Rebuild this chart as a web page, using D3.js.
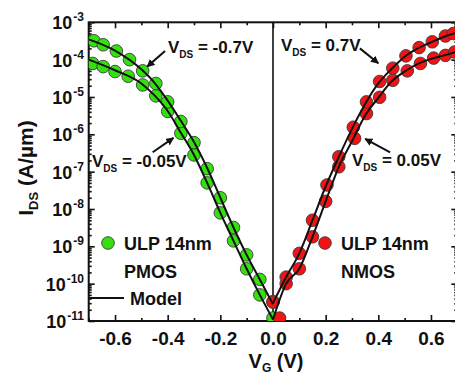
<!DOCTYPE html>
<html>
<head>
<meta charset="utf-8">
<script src="https://cdn.jsdelivr.net/npm/d3@7"></script>
<style>
  body { margin: 0; background: #fff; }
  svg text { font-family: "Liberation Sans", Arial, sans-serif; font-weight: bold; fill: #111; }
</style>
</head>
<body>
<svg id="chart" width="455" height="374"></svg>
<script>
// Measured transfer characteristics, I_DS in A/um versus V_G in V
const pmosHighVg = [-0.68, -0.645, -0.595, -0.545, -0.495, -0.445, -0.40, -0.35, -0.30, -0.25, -0.20, -0.15, -0.10, -0.05, 0.0];
const pmosHighId = [3.2e-4, 2.5e-4, 1.7e-4, 1.0e-4, 5.0e-5, 2.3e-5, 7.4e-6, 2.2e-6, 6.0e-7, 1.2e-7, 2.0e-8, 3.2e-9, 5.9e-10, 1.3e-10, 3.3e-11];
const pmosLowVg = [-0.685, -0.645, -0.60, -0.55, -0.495, -0.445, -0.40, -0.35, -0.30, -0.25, -0.20, -0.15, -0.10, -0.05, 0.0];
const pmosLowId = [7.9e-5, 6.5e-5, 4.8e-5, 3.6e-5, 2.1e-5, 1.07e-5, 4.1e-6, 1.07e-6, 2.8e-7, 5.0e-8, 7.9e-9, 1.4e-9, 2.5e-10, 5.0e-11, 1.2e-11];

const nmosHighVg = [0.0, 0.05, 0.10, 0.15, 0.205, 0.25, 0.305, 0.355, 0.405, 0.455, 0.505, 0.555, 0.605, 0.655, 0.685];
const nmosHighId = [3.2e-11, 1.5e-10, 6.5e-10, 5.0e-9, 4.4e-8, 2.5e-7, 1.55e-6, 7.4e-6, 2.6e-5, 5.9e-5, 1.26e-4, 2.1e-4, 3.0e-4, 4.3e-4, 5.0e-4];
const nmosLowVg = [0.025, 0.05, 0.10, 0.15, 0.20, 0.25, 0.31, 0.355, 0.405, 0.455, 0.51, 0.56, 0.61, 0.655, 0.69];
const nmosLowId = [1.2e-11, 1.0e-10, 2.5e-10, 1.8e-9, 1.6e-8, 1.35e-7, 7.8e-7, 3.6e-6, 9.8e-6, 2.8e-5, 5.0e-5, 7.9e-5, 1.1e-4, 1.3e-4, 1.6e-4];

// Compact-model curves
const modelPHighVg = [-0.70, -0.60, -0.50, -0.45, -0.40, -0.35, -0.30, -0.25, -0.20, -0.15, -0.10, -0.05, 0.0];
const modelPHighId = [3.5e-4, 1.75e-4, 5.5e-5, 2.4e-5, 8.0e-6, 2.3e-6, 6.2e-7, 1.25e-7, 2.0e-8, 3.2e-9, 5.9e-10, 1.3e-10, 2.8e-11];
const modelPLowVg = [-0.70, -0.60, -0.50, -0.45, -0.40, -0.35, -0.30, -0.25, -0.20, -0.15, -0.10, -0.05, 0.0];
const modelPLowId = [1.0e-4, 5.2e-5, 2.3e-5, 1.1e-5, 4.2e-6, 1.1e-6, 2.8e-7, 5.0e-8, 7.9e-9, 1.4e-9, 2.5e-10, 5.0e-11, 1.1e-11];
const modelNHighVg = [0.0, 0.05, 0.10, 0.15, 0.20, 0.25, 0.30, 0.35, 0.40, 0.45, 0.50, 0.55, 0.60, 0.65, 0.70];
const modelNHighId = [3.0e-11, 1.5e-10, 6.5e-10, 5.0e-9, 4.0e-8, 2.5e-7, 1.4e-6, 6.5e-6, 2.3e-5, 5.6e-5, 1.2e-4, 2.0e-4, 2.9e-4, 4.1e-4, 5.3e-4];
const modelNLowVg = [0.0, 0.05, 0.10, 0.15, 0.20, 0.25, 0.30, 0.35, 0.40, 0.45, 0.50, 0.55, 0.60, 0.65, 0.70];
const modelNLowId = [1.1e-11, 1.0e-10, 2.5e-10, 1.8e-9, 1.6e-8, 1.35e-7, 6.5e-7, 3.2e-6, 9.5e-6, 2.6e-5, 4.8e-5, 7.7e-5, 1.05e-4, 1.3e-4, 1.65e-4];

// Axis ticks
const xMajorTicks = [-0.6, -0.4, -0.2, 0.0, 0.2, 0.4, 0.6];
const xMinorTicks = [-0.7, -0.5, -0.3, -0.1, 0.1, 0.3, 0.5, 0.7];
const xTickLabels = ["-0.6", "-0.4", "-0.2", "0.0", "0.2", "0.4", "0.6"];
const yDecades = [1e-11, 1e-10, 1e-9, 1e-8, 1e-7, 1e-6, 1e-5, 1e-4, 1e-3];
const yExponents = ["-11", "-10", "-9", "-8", "-7", "-6", "-5", "-4", "-3"];

(function () {
const svg = d3.select("#chart");
const pl = 88.7, pr = 457.3, pt = 22.3, pb = 321;

const x = d3.scaleLinear().domain([-0.7, 0.7]).range([pl, pr]);
const y = d3.scaleLog().domain([1e-11, 1e-3]).range([pb, pt]);

const defs = svg.append("defs");
defs.append("clipPath").attr("id", "plot-clip")
  .append("rect").attr("x", pl).attr("y", pt).attr("width", pr - pl).attr("height", pb - pt);

const yMinor = [];
yDecades.slice(0, -1).forEach(d => { for (let k = 2; k <= 9; k++) yMinor.push(d * k); });

// Frame and ticks
function drawAxis(axis, transform) {
  const g = svg.append("g").attr("transform", transform).call(axis);
  g.select(".domain").remove();
  g.selectAll("line").attr("stroke", "#111").attr("stroke-width", 1.6);
  return g;
}
drawAxis(d3.axisBottom(x).tickValues(xMajorTicks).tickSize(-6).tickPadding(11)
  .tickFormat((d, i) => xTickLabels[i]), `translate(0,${pb})`)
  .selectAll("text").attr("font-size", 19).attr("fill", "#111")
  .style("font-family", "'Liberation Sans', Arial, sans-serif").style("font-weight", "bold");
drawAxis(d3.axisBottom(x).tickValues(xMinorTicks).tickSize(-3).tickFormat(""), `translate(0,${pb})`);
drawAxis(d3.axisTop(x).tickValues(xMajorTicks).tickSize(-6).tickFormat(""), `translate(0,${pt})`);
drawAxis(d3.axisTop(x).tickValues(xMinorTicks).tickSize(-3).tickFormat(""), `translate(0,${pt})`);
drawAxis(d3.axisLeft(y).tickValues(yDecades).tickSize(-6).tickFormat(""), `translate(${pl},0)`);
drawAxis(d3.axisLeft(y).tickValues(yMinor).tickSize(-3).tickFormat(""), `translate(${pl},0)`);
drawAxis(d3.axisRight(y).tickValues(yDecades).tickSize(-6).tickFormat(""), `translate(${pr},0)`);
drawAxis(d3.axisRight(y).tickValues(yMinor).tickSize(-3).tickFormat(""), `translate(${pr},0)`);

svg.append("rect").attr("x", pl).attr("y", pt).attr("width", pr - pl).attr("height", pb - pt)
  .attr("fill", "none").attr("stroke", "#111").attr("stroke-width", 2);

// Y tick labels as powers of ten
const yLab = svg.append("g");
yDecades.forEach((d, i) => {
  const t = yLab.append("text").attr("x", 84).attr("y", y(d) + 7).attr("text-anchor", "end").attr("font-size", 18);
  t.append("tspan").text("10");
  t.append("tspan").attr("dx", 1).attr("dy", -8).attr("font-size", 12).text(yExponents[i]);
});

// V_G = 0 divider
svg.append("line").attr("x1", x(0)).attr("x2", x(0)).attr("y1", pt).attr("y2", pb)
  .attr("stroke", "#111").attr("stroke-width", 1.6);

const plot = svg.append("g").attr("clip-path", "url(#plot-clip)");
const line = d3.line().x(d => x(d[0])).y(d => y(d[1])).curve(d3.curveMonotoneX);
const zip = (a, b) => a.map((v, i) => [v, b[i]]);

const pGreen = "#35e010", pRed = "#f01414";
function dots(vg, id, color) {
  plot.append("g").selectAll("circle").data(zip(vg, id)).join("circle")
    .attr("cx", d => x(d[0])).attr("cy", d => y(d[1])).attr("r", 6.3)
    .attr("fill", color).attr("stroke", "#3a3a3a").attr("stroke-width", 0.9);
}
dots(pmosLowVg, pmosLowId, pGreen);
dots(pmosHighVg, pmosHighId, pGreen);
dots(nmosLowVg, nmosLowId, pRed);
dots(nmosHighVg, nmosHighId, pRed);

[[modelPHighVg, modelPHighId], [modelPLowVg, modelPLowId], [modelNHighVg, modelNHighId], [modelNLowVg, modelNLowId]]
  .forEach(([vg, id]) => plot.append("path").datum(zip(vg, id)).attr("d", line)
    .attr("fill", "none").attr("stroke", "#111").attr("stroke-width", 2));

// Legend
function legendText(tx, ty, str) {
  svg.append("text").attr("x", tx).attr("y", ty).attr("font-size", 18).text(str);
}
svg.append("circle").attr("cx", 108).attr("cy", 243).attr("r", 6.3).attr("fill", pGreen).attr("stroke", "#3a3a3a").attr("stroke-width", 0.9);
legendText(124, 250, "ULP 14nm");
legendText(124, 278, "PMOS");
svg.append("line").attr("x1", pl).attr("x2", 124).attr("y1", 298).attr("y2", 298).attr("stroke", "#111").attr("stroke-width", 2);
legendText(130, 305, "Model");
svg.append("circle").attr("cx", 325).attr("cy", 243).attr("r", 6.3).attr("fill", pRed).attr("stroke", "#3a3a3a").attr("stroke-width", 0.9);
legendText(341, 250, "ULP 14nm");
legendText(341, 278, "NMOS");

// V_DS annotations with arrows
defs.append("marker").attr("id", "head").attr("viewBox", "0 0 10 10").attr("refX", 9).attr("refY", 5)
  .attr("markerWidth", 4).attr("markerHeight", 4).attr("orient", "auto")
  .append("path").attr("d", "M0,0 L10,5 L0,10 Z").attr("fill", "#111");

function label(tx, ty, rest) {
  const t = svg.append("text").attr("x", tx).attr("y", ty).attr("font-size", 17);
  t.append("tspan").text("V");
  t.append("tspan").attr("dy", 5).attr("font-size", 10).text("DS");
  t.append("tspan").attr("dy", -5).text(rest);
}
function arrow(v1, i1, v2, i2) {
  svg.append("line").attr("x1", x(v1)).attr("y1", y(i1)).attr("x2", x(v2)).attr("y2", y(i2))
    .attr("stroke", "#111").attr("stroke-width", 2).attr("marker-end", "url(#head)");
}
label(168, 53, " = -0.7V");
arrow(-0.41, 1.7e-4, -0.478, 6.5e-5);
label(92, 167, " = -0.05V");
arrow(-0.457, 3.3e-7, -0.378, 8.0e-7);
label(281, 51, " = 0.7V");
arrow(0.33, 2.0e-4, 0.40, 8.0e-5);
label(352, 166, " = 0.05V");
arrow(0.445, 3.3e-7, 0.35, 7.6e-7);

// Axis titles
const xt = svg.append("text").attr("x", 276).attr("y", 368).attr("text-anchor", "middle").attr("font-size", 20);
xt.append("tspan").text("V");
xt.append("tspan").attr("dy", 4).attr("font-size", 12).text("G");
xt.append("tspan").attr("dy", -4).text(" (V)");

const yt = svg.append("text").attr("transform", "translate(33,168) rotate(-90)").attr("text-anchor", "middle").attr("font-size", 21);
yt.append("tspan").text("I");
yt.append("tspan").attr("dy", 5).attr("font-size", 13).text("DS");
yt.append("tspan").attr("dy", -5).text(" (A/\u00b5m)");
})();
</script>
</body>
</html>
